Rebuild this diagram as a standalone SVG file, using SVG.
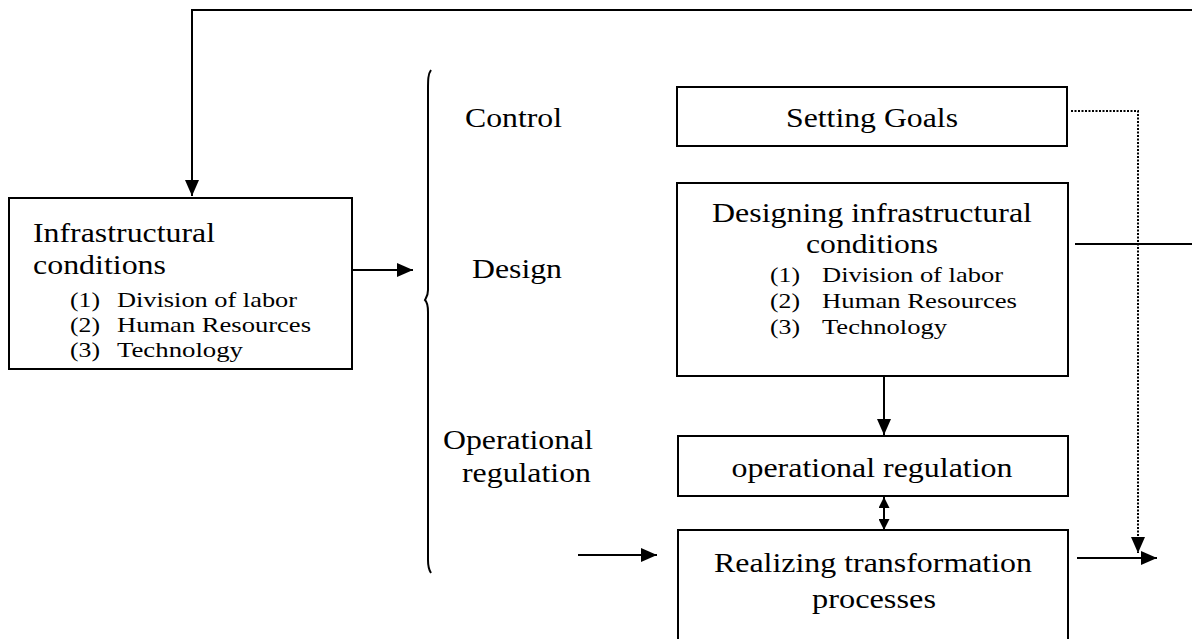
<svg xmlns="http://www.w3.org/2000/svg" width="1192" height="639" viewBox="0 0 1192 639">
<defs>
<marker id="ah" viewBox="0 0 10 10" refX="10" refY="5" markerWidth="11" markerHeight="11" markerUnits="userSpaceOnUse" orient="auto-start-reverse">
<path d="M0,0 L10,5 L0,10 z" fill="#000"/>
</marker>
<marker id="ahb" viewBox="0 0 16 14" refX="16" refY="7" markerWidth="16" markerHeight="14" markerUnits="userSpaceOnUse" orient="auto-start-reverse">
<path d="M0,0 L16,7 L0,14 z" fill="#000"/>
</marker>
</defs>
<style>
.box{fill:#fff;stroke:#000;stroke-width:2}
.t{font-family:"Liberation Serif","Times New Roman",serif;fill:#000}
.big{font-size:27px}
.sm{font-size:21px}
.ln{fill:none;stroke:#000;stroke-width:2}
.dot{fill:none;stroke:#000;stroke-width:2;stroke-dasharray:2 1.5}
</style>
<rect width="1192" height="639" fill="#fff"/>
<g id="connectors">
<path class="ln" d="M1192,10 H192 V196" marker-end="url(#ahb)"/>
<path class="ln" d="M352,270 H413" marker-end="url(#ahb)"/>
<path class="ln" d="M431,70 C428,74 428,80 428,90 L428,290 C428,296 426,298 425,300 C427,302 428,306 428,312 L428,560 C428,566 429,570 431,573"/>
<path class="ln" d="M1075,244 H1192"/>
<path class="ln" d="M884,376 V435" marker-end="url(#ahb)"/>
<path class="ln" d="M884,497 V530" marker-start="url(#ah)" marker-end="url(#ah)"/>
<path class="ln" d="M578,555 H657" marker-end="url(#ahb)"/>
<path class="ln" d="M1077,558 H1157" marker-end="url(#ahb)"/>
<path class="dot" d="M1071,111 H1138 V553" marker-end="url(#ahb)"/>
</g>
<g id="infra">
<rect class="box" x="9" y="198" width="343" height="171"/>
<text class="t big" x="33" y="242" textLength="182" lengthAdjust="spacingAndGlyphs">Infrastructural</text>
<text class="t big" x="33" y="274" textLength="133" lengthAdjust="spacingAndGlyphs">conditions</text>
<text class="t sm" x="70" y="307" textLength="30" lengthAdjust="spacingAndGlyphs">(1)</text><text class="t sm" x="117" y="307" textLength="180" lengthAdjust="spacingAndGlyphs">Division of labor</text>
<text class="t sm" x="70" y="332" textLength="30" lengthAdjust="spacingAndGlyphs">(2)</text><text class="t sm" x="117" y="332" textLength="194" lengthAdjust="spacingAndGlyphs">Human Resources</text>
<text class="t sm" x="70" y="357" textLength="30" lengthAdjust="spacingAndGlyphs">(3)</text><text class="t sm" x="117" y="357" textLength="126" lengthAdjust="spacingAndGlyphs">Technology</text>
</g>
<g id="labels">
<text class="t big" x="465" y="127" textLength="97" lengthAdjust="spacingAndGlyphs">Control</text>
<text class="t big" x="472" y="278" textLength="90" lengthAdjust="spacingAndGlyphs">Design</text>
<text class="t big" x="443" y="449" textLength="150" lengthAdjust="spacingAndGlyphs">Operational</text>
<text class="t big" x="462" y="482" textLength="129" lengthAdjust="spacingAndGlyphs">regulation</text>
</g>
<g id="goals">
<rect class="box" x="677" y="87" width="390" height="59"/>
<text class="t big" x="872" y="127" text-anchor="middle" textLength="172" lengthAdjust="spacingAndGlyphs">Setting Goals</text>
</g>
<g id="designing">
<rect class="box" x="677" y="183" width="391" height="193"/>
<text class="t big" x="872" y="222" text-anchor="middle" textLength="320" lengthAdjust="spacingAndGlyphs">Designing infrastructural</text>
<text class="t big" x="872" y="253" text-anchor="middle" textLength="132" lengthAdjust="spacingAndGlyphs">conditions</text>
<text class="t sm" x="770" y="282" textLength="30" lengthAdjust="spacingAndGlyphs">(1)</text><text class="t sm" x="822" y="282" textLength="181" lengthAdjust="spacingAndGlyphs">Division of labor</text>
<text class="t sm" x="770" y="308" textLength="30" lengthAdjust="spacingAndGlyphs">(2)</text><text class="t sm" x="822" y="308" textLength="195" lengthAdjust="spacingAndGlyphs">Human Resources</text>
<text class="t sm" x="770" y="334" textLength="30" lengthAdjust="spacingAndGlyphs">(3)</text><text class="t sm" x="822" y="334" textLength="125" lengthAdjust="spacingAndGlyphs">Technology</text>
</g>
<g id="opreg">
<rect class="box" x="678" y="436" width="390" height="60"/>
<text class="t big" x="872" y="477" text-anchor="middle" textLength="281" lengthAdjust="spacingAndGlyphs">operational regulation</text>
</g>
<g id="realizing">
<rect class="box" x="678" y="530" width="390" height="120"/>
<text class="t big" x="873" y="572" text-anchor="middle" textLength="318" lengthAdjust="spacingAndGlyphs">Realizing transformation</text>
<text class="t big" x="874" y="608" text-anchor="middle" textLength="124" lengthAdjust="spacingAndGlyphs">processes</text>
</g>
</svg>
